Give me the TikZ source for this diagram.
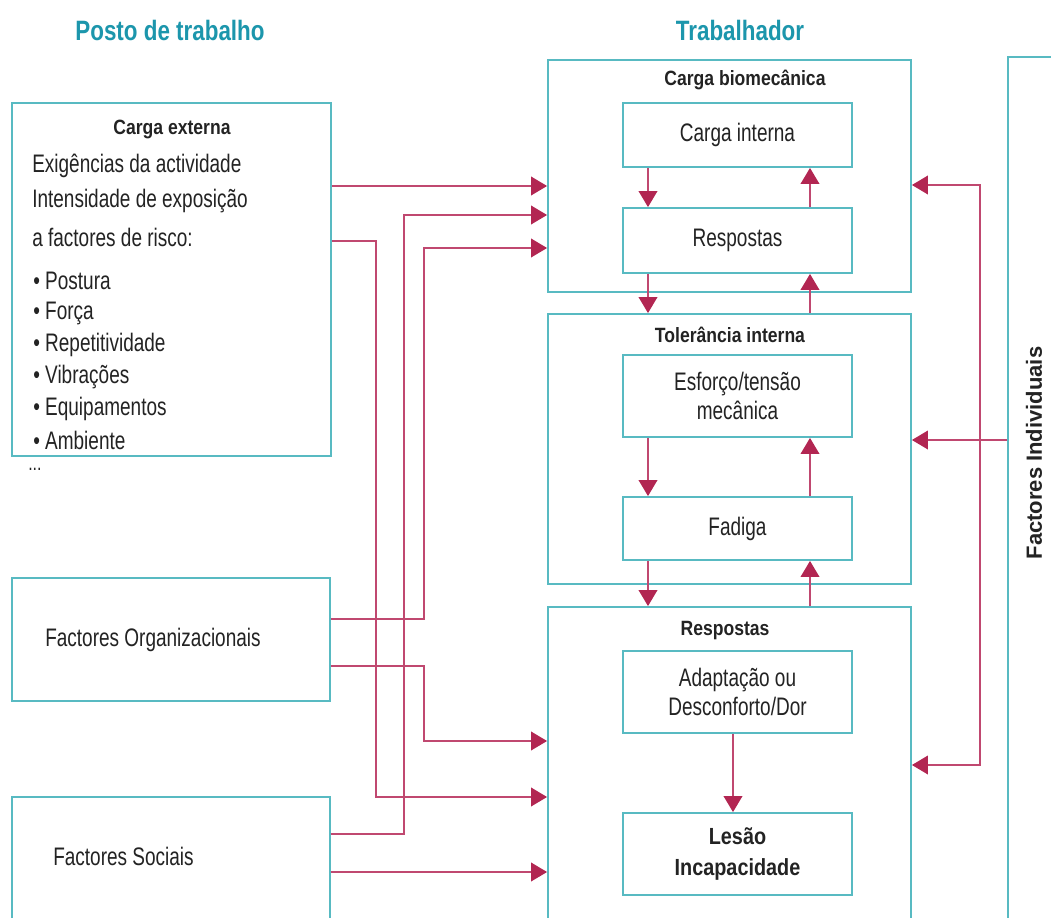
\documentclass[tikz,border=0pt]{standalone}
\usepackage{fontspec}
\setmainfont{Liberation Sans}[FakeStretch=0.75]
\newfontfamily\ttlfont{Liberation Sans}[FakeStretch=0.85]
\newfontfamily\hdfont{Liberation Sans}[FakeStretch=0.8]
\newfontfamily\fifont{Liberation Sans}
\usetikzlibrary{arrows.meta}
\definecolor{boxc}{RGB}{88,186,194}
\definecolor{headc}{RGB}{28,150,172}
\definecolor{linec}{RGB}{192,72,112}
\definecolor{tipc}{RGB}{178,38,82}
\definecolor{txtc}{RGB}{35,35,35}
\begin{document}
\begin{tikzpicture}[x=0.75pt,y=-0.75pt,
  box/.style={draw=boxc,line width=1.4pt,inner sep=0pt,align=center,text=txtc,font=\fontsize{19}{22}\selectfont},
  arr/.style={draw=linec,line width=1.1pt,-{Triangle[length=12pt,width=14pt,color=tipc]}},
  head/.style={font=\hdfont\bfseries\fontsize{21}{23}\selectfont,text=headc},
  ttl/.style={font=\ttlfont\bfseries\fontsize{15.5}{18}\selectfont,text=txtc},
  body/.style={font=\fontsize{19}{22}\selectfont,text=txtc,inner sep=0pt},
]
\clip (0,0) rectangle (1051,918);
\fill[white] (0,0) rectangle (1051,918);

% headers
\node[head] (h1) at (170,30) {Posto de trabalho};
\node[head] (h2) at (740,30) {Trabalhador};

% left boxes
\node[box,minimum width=239.25pt,minimum height=264.75pt] (ext) at (171.5,279.5) {};
\node[ttl] (extt) at (172,129) {Carga externa};
\node[body,anchor=west] (e1) at (32,166) {Exigências da actividade};
\node[body,anchor=west] (e2) at (32,201) {Intensidade de exposição};
\node[body,anchor=west] (e3) at (32,237) {a factores de risco:};
\node[body,anchor=west] (b1) at (33,281) {• Postura};
\node[body,anchor=west] (b2) at (33,313) {• Força};
\node[body,anchor=west] (b3) at (33,345) {• Repetitividade};
\node[body,anchor=west] (b4) at (33,377) {• Vibrações};
\node[body,anchor=west] (b5) at (33,409) {• Equipamentos};
\node[body,anchor=west] (b6) at (33,440) {• Ambiente};
\node[body,anchor=west,font=\fontsize{16}{18}\selectfont] (b7) at (28,469) {...};

\node[box,minimum width=238.5pt,minimum height=92.25pt] (org) at (171,639.5) {};
\node[body,anchor=west] (orgt) at (45,640) {Factores Organizacionais};
\node[box,minimum width=238.5pt,minimum height=99.75pt] (soc) at (171,863.5) {};
\node[body,anchor=west] (soct) at (53,856) {Factores Sociais};

% worker column
\node[box,minimum width=272.25pt,minimum height=174pt] (cb) at (729.5,176) {};
\node[ttl] (cbt) at (745,80) {Carga biomecânica};
\node[box,minimum width=171.75pt,minimum height=48pt] (ci) at (737.5,135) {Carga interna};
\node[box,minimum width=171.75pt,minimum height=48.75pt] (r1) at (737.5,240.5) {Respostas};

\node[box,minimum width=272.25pt,minimum height=202.5pt] (ti) at (729.5,449) {};
\node[ttl] (tit) at (730,335) {Tolerância interna};
\node[box,minimum width=171.75pt,minimum height=61.5pt] (et) at (737.5,396) {Esforço/tensão\\mecânica};
\node[box,minimum width=171.75pt,minimum height=47.25pt] (fa) at (737.5,528.5) {Fadiga};

\node[box,minimum width=272.25pt,minimum height=249.75pt] (ro) at (729.5,773.5) {};
\node[ttl] (rot) at (725,631) {Respostas};
\node[box,minimum width=171.75pt,minimum height=61.5pt] (ad) at (737.5,692) {Adaptação ou\\Desconforto/Dor};
\node[box,minimum width=171.75pt,minimum height=61.5pt,font=\ttlfont\bfseries\fontsize{17.5}{23}\selectfont] (le) at (737.5,854) {Lesão\\Incapacidade};

% individual factors
\node[box,minimum width=46.5pt,minimum height=662.25pt] (fi) at (1039,498.5) {};
\node[font=\fifont\bfseries\fontsize{16.5}{18}\selectfont,text=txtc,rotate=90] (fit) at (1034,453) {Factores Individuais};

% internal arrows
\draw[arr] (ci.south -| 648,0) -- (r1.north -| 648,0);
\draw[arr] (r1.north -| 810,0) -- (ci.south -| 810,0);
\draw[arr] (r1.south -| 648,0) -- (ti.north -| 648,0);
\draw[arr] (ti.north -| 810,0) -- (r1.south -| 810,0);
\draw[arr] (et.south -| 648,0) -- (fa.north -| 648,0);
\draw[arr] (fa.north -| 810,0) -- (et.south -| 810,0);
\draw[arr] (fa.south -| 648,0) -- (ro.north -| 648,0);
\draw[arr] (ro.north -| 810,0) -- (fa.south -| 810,0);
\draw[arr] (ad.south -| 733,0) -- (le.north -| 733,0);

% left connectors
\draw[arr] (ext.east |- 0,186) -- (cb.west |- 0,186);
\draw[arr] (soc.east |- 0,834) -| (404,215) -- (cb.west |- 0,215);
\draw[arr] (org.east |- 0,619) -| (424,248) -- (cb.west |- 0,248);
\draw[arr] (ext.east |- 0,241) -| (376,797) -- (ro.west |- 0,797);
\draw[arr] (org.east |- 0,666) -| (424,741) -- (ro.west |- 0,741);
\draw[arr] (soc.east |- 0,872) -- (ro.west |- 0,872);

% right connectors
\coordinate (j) at (980,440);
\draw[arr] (fi.west |- j) -- (ti.east |- j);
\draw[arr] (j) |- (cb.east |- 0,185);
\draw[arr] (j) |- (ro.east |- 0,765);
\end{tikzpicture}
\end{document}
